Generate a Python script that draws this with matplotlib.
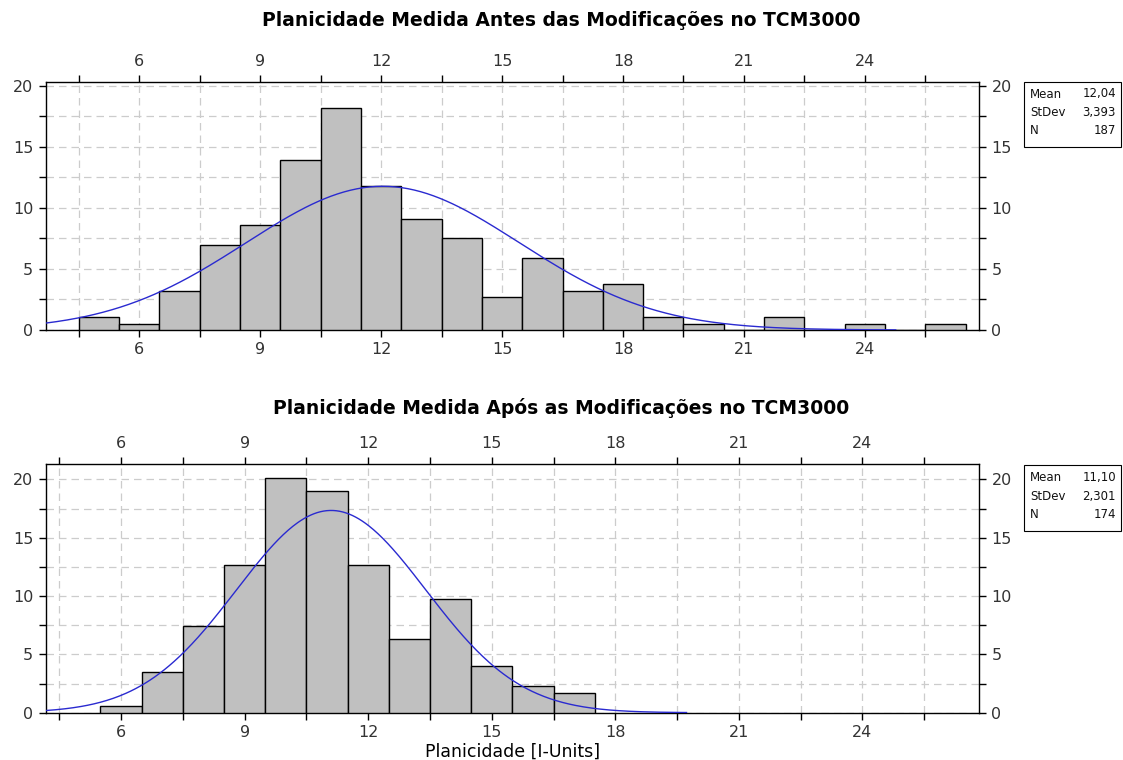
import numpy as np
import matplotlib.pyplot as plt
from matplotlib.patches import Rectangle

# percent of observations per 1-unit bin (bins centred on integers)
bins_before = [5, 6, 7, 8, 9, 10, 11, 12, 13, 14, 15, 16, 17, 18, 19, 20, 21, 22, 23, 24, 25, 26]
pct_before = [1.07, 0.53, 3.21, 6.95, 8.56, 13.90, 18.18, 11.76, 9.09, 7.49, 2.67, 5.88,
              3.21, 3.74, 1.07, 0.53, 0.0, 1.07, 0.0, 0.53, 0.0, 0.53]
mean_before, sd_before, n_before = 12.04, 3.393, 187

bins_after = [6, 7, 8, 9, 10, 11, 12, 13, 14, 15, 16, 17]
pct_after = [0.57, 3.45, 7.47, 12.64, 20.11, 18.97, 12.64, 6.32, 9.77, 4.02, 2.30, 1.72]
mean_after, sd_after, n_after = 11.10, 2.301, 174

title_before = "Planicidade Medida Antes das Modificações no TCM3000"
title_after = "Planicidade Medida Após as Modificações no TCM3000"
xlabel = "Planicidade [I-Units]"

W, H = 1123, 760
fig = plt.figure(figsize=(W / 100, H / 100), dpi=100)
plt.rcParams['font.family'] = ['DejaVu Sans']


def panel(rect, centers, pct, mean, sd, n, xlim, ylim_top, title, title_y, box_px):
    ax = fig.add_axes(rect)
    ax.bar(centers, pct, width=1.0, color='#c0c0c0', edgecolor='black', linewidth=1.0, zorder=3)
    xs = np.linspace(xlim[0], mean + 3.75 * sd, 400)
    ys = 100.0 / (sd * np.sqrt(2 * np.pi)) * np.exp(-0.5 * ((xs - mean) / sd) ** 2)
    ax.plot(xs, ys, color='#2a2ad0', lw=1.0, zorder=4)

    ax.set_xlim(*xlim)
    ax.set_ylim(0, ylim_top)
    ax.set_xticks(np.arange(6, 25, 3))
    ax.set_xticks(np.arange(4.5, 26, 3), minor=True)
    ax.set_yticks(np.arange(0, 21, 5))
    ax.set_yticks(np.arange(2.5, 20, 5), minor=True)
    ax.grid(which='both', color='#cccccc', linestyle=(0, (6, 4)), linewidth=0.9, zorder=0)
    ax.tick_params(which='both', direction='out', length=5, width=1, color='black',
                   top=True, right=True, labeltop=True, labelright=True,
                   labelsize=11.5, labelcolor='#333333', pad=4)
    for s in ax.spines.values():
        s.set_linewidth(1.0)

    fig.text(0.5, title_y, title, ha='center', va='center', fontsize=13.5, fontweight='bold')

    # stats box
    x0, y0, x1, y1 = box_px
    fig.add_artist(Rectangle((x0 / W, 1 - y1 / H), (x1 - x0) / W, (y1 - y0) / H,
                             transform=fig.transFigure, fill=False, edgecolor='black', lw=0.8))
    labels = ["Mean", "StDev", "N"]
    values = [("%.2f" % mean).replace('.', ','), ("%.3f" % sd).replace('.', ','), "%d" % n]
    rows = np.linspace(y0 + 12.5, y1 - 16, 3)
    for lab, val, ry in zip(labels, values, rows):
        fig.text((x0 + 6) / W, 1 - ry / H, lab, ha='left', va='center', fontsize=8.5,
                 color='#111111')
        fig.text((x1 - 5) / W, 1 - ry / H, val, ha='right', va='center', fontsize=8.5,
                 color='#111111')
    return ax


left = 45.7 / W
width = (979 - 45.7) / W
panel([left, 1 - 330 / H, width, (330 - 81.5) / H], bins_before, pct_before,
      mean_before, sd_before, n_before, (3.68, 26.83), 20.33, title_before, 1 - 20 / H,
      (1024, 81.5, 1121, 147))
ax2 = panel([left, 1 - 712.7 / H, width, (712.7 - 464) / H], bins_after, pct_after,
            mean_after, sd_after, n_after, (4.17, 26.83), 21.32, title_after, 1 - 408 / H,
            (1024, 465, 1121, 531))

fig.text(ax2.get_position().x0 + ax2.get_position().width / 2, 1 - 752 / H, xlabel,
         ha='center', va='center', fontsize=12.5)

fig.savefig('out.png', dpi=100)
